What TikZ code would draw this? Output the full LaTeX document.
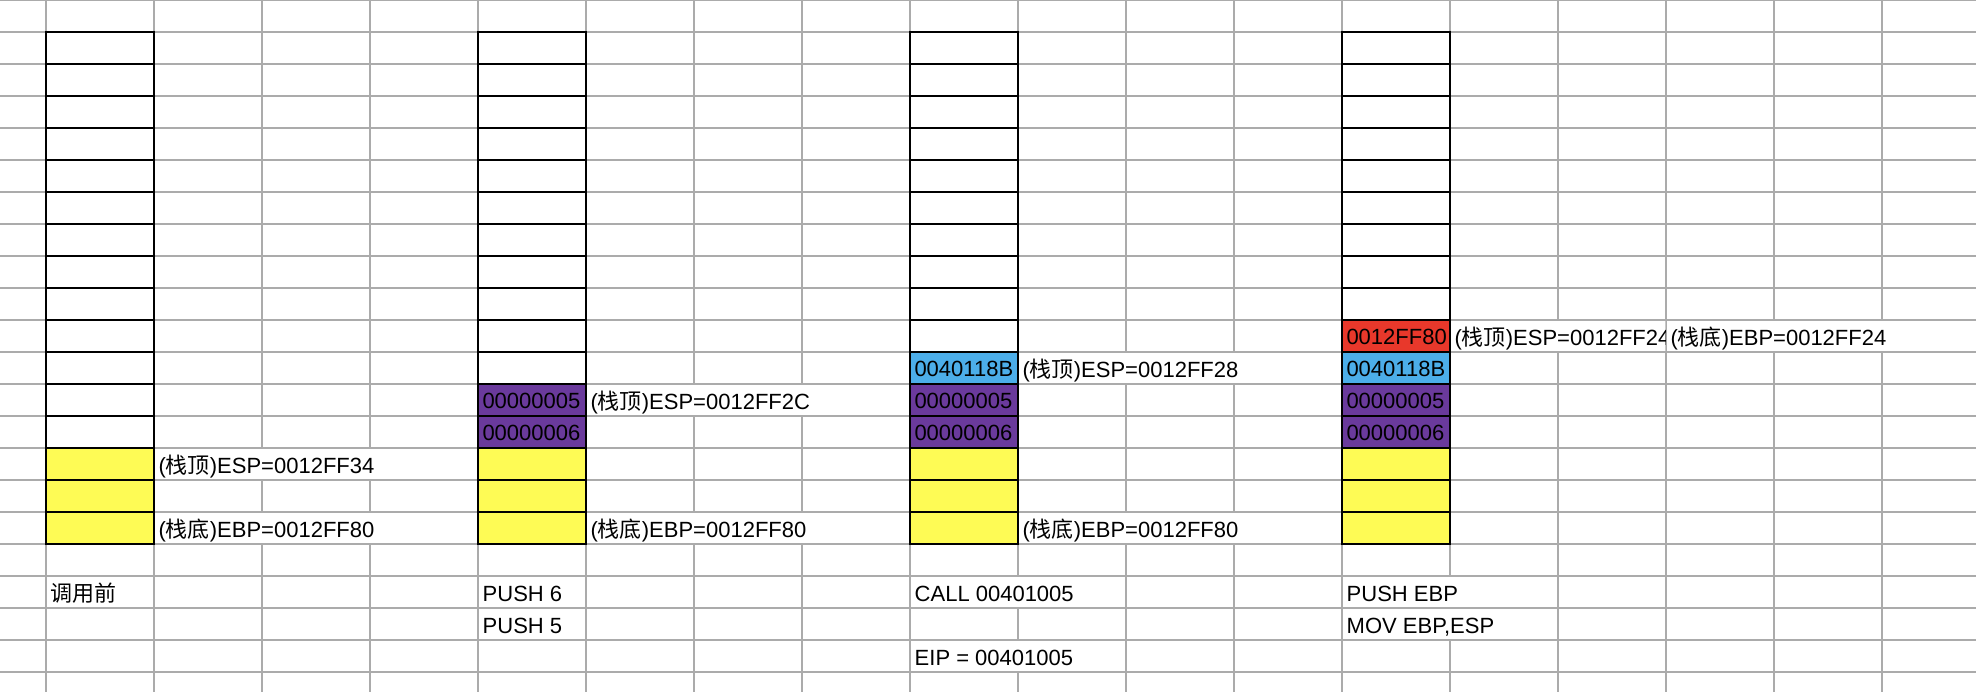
\documentclass[tikz,border=0pt]{standalone}
\usepackage{fontspec}
\setmainfont{Liberation Sans}
\newfontfamily\cjkfont{Noto Sans CJK SC}
\newcommand{\zh}[1]{{\cjkfont #1}}
\definecolor{gridgray}{HTML}{ABABAB}
\definecolor{cellyellow}{HTML}{FEFB55}
\definecolor{cellpurple}{HTML}{6A3A9C}
\definecolor{cellblue}{HTML}{4CAEE9}
\definecolor{cellred}{HTML}{E8382B}
\begin{document}
\begin{tikzpicture}[x=0.5pt,y=-0.5pt,
  font=\fontsize{11pt}{13pt}\selectfont,
  gridline/.style={draw=gridgray, line width=0.65pt},
  cell/.style={draw=black, line width=0.75pt, anchor=north west,
    minimum width=54pt, minimum height=16pt, inner ysep=0pt, inner xsep=2.25pt,
    outer sep=0pt, text width=49.5pt, align=left, text height=8pt, text depth=0pt,
    fill=white},
  yel/.style={cell, fill=cellyellow},
  pur/.style={cell, fill=cellpurple},
  blu/.style={cell, fill=cellblue},
  rd/.style={cell, fill=cellred},
  lbl/.style={anchor=base west, fill=white, inner xsep=1.9pt, inner ysep=0pt,
    outer sep=0pt, text height=12pt, text depth=3pt},
  cmd/.style={anchor=base west, fill=white, inner xsep=2pt, inner ysep=0pt,
    outer sep=0pt, text height=12pt, text depth=3pt}]
\useasboundingbox (0,0) rectangle (1976,692);
\fill[white] (0,0) rectangle (1976,692);
% grid
\foreach \k in {0,...,17} \draw[gridline] ({46+108*\k},0) -- ({46+108*\k},692);
\draw[gridline] (0,0.6) -- (1976,0.6);
\foreach \k in {1,...,21} \draw[gridline] (0,{32*\k}) -- (1976,{32*\k});

% labels next to the stacks
\node[lbl] (a-esp) at (154.75,473) {(\zh{栈顶})ESP=0012FF34};
\node[lbl] (a-ebp) at (154.75,537) {(\zh{栈底})EBP=0012FF80};
\node[lbl] (b-esp) at (586.75,409) {(\zh{栈顶})ESP=0012FF2C};
\node[lbl] (b-ebp) at (586.75,537) {(\zh{栈底})EBP=0012FF80};
\node[lbl] (c-esp) at (1018.75,377) {(\zh{栈顶})ESP=0012FF28};
\node[lbl] (c-ebp) at (1018.75,537) {(\zh{栈底})EBP=0012FF80};
\begin{scope}
  \clip (1450,300) rectangle (1665.4,370);
  \node[lbl] (d-esp) at (1450.75,345) {(\zh{栈顶})ESP=0012FF24};
\end{scope}
\node[lbl] (d-ebp) at (1666.7,345) {(\zh{栈底})EBP=0012FF24};

% instructions
\node[cmd] (t1) at (46.7,601) {\zh{调用前}};
\node[cmd] (t2a) at (478.7,601) {PUSH 6};
\node[cmd] (t2b) at (478.7,633) {PUSH 5};
\node[cmd] (t3a) at (910.7,601) {CALL 00401005};
\node[cmd] (t3b) at (910.7,665) {EIP = 00401005};
\node[cmd] (t4a) at (1342.7,601) {PUSH EBP};
\node[cmd] (t4b) at (1342.7,633) {MOV EBP,ESP};

% stack 1
\foreach \r in {1,...,13} \node[cell] (a\r) at (46,{32*\r}) {};
\foreach \r in {14,15,16} \node[yel] (a\r) at (46,{32*\r}) {};
% stack 2
\foreach \r in {1,...,11} \node[cell] (b\r) at (478,{32*\r}) {};
\node[pur] (b12) at (478,384) {00000005};
\node[pur] (b13) at (478,416) {00000006};
\foreach \r in {14,15,16} \node[yel] (b\r) at (478,{32*\r}) {};
% stack 3
\foreach \r in {1,...,10} \node[cell] (c\r) at (910,{32*\r}) {};
\node[blu] (c11) at (910,352) {0040118B};
\node[pur] (c12) at (910,384) {00000005};
\node[pur] (c13) at (910,416) {00000006};
\foreach \r in {14,15,16} \node[yel] (c\r) at (910,{32*\r}) {};
% stack 4
\foreach \r in {1,...,9} \node[cell] (d\r) at (1342,{32*\r}) {};
\node[rd] (d10) at (1342,320) {0012FF80};
\node[blu] (d11) at (1342,352) {0040118B};
\node[pur] (d12) at (1342,384) {00000005};
\node[pur] (d13) at (1342,416) {00000006};
\foreach \r in {14,15,16} \node[yel] (d\r) at (1342,{32*\r}) {};
\end{tikzpicture}
\end{document}
